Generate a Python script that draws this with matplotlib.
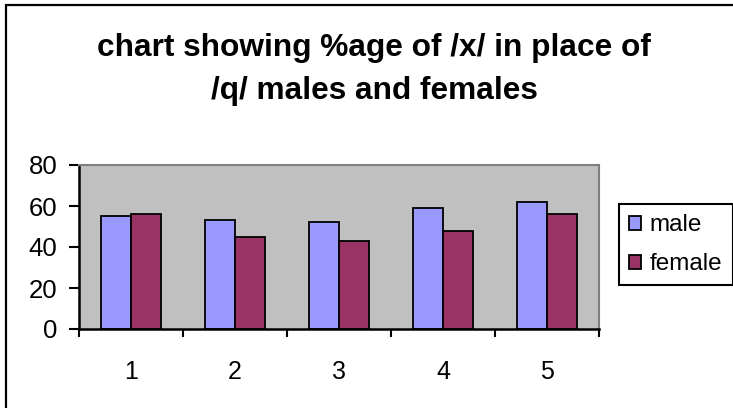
import numpy as np
import matplotlib
matplotlib.use('Agg')
import matplotlib.pyplot as plt
from matplotlib.patches import Rectangle

plt.rcParams['font.family'] = ['Liberation Sans', 'DejaVu Sans']

categories = ['1', '2', '3', '4', '5']
male = [55, 53, 52, 59, 62]
female = [56, 45, 43, 48, 56]
series_names = ['male', 'female']
title_lines = ['chart showing %age of /x/ in place of', '/q/ males and females']

W, H = 733, 408
fig = plt.figure(figsize=(W / 100, H / 100), dpi=100)
fig.patch.set_facecolor('white')

# chart frame (runs off the right and bottom edges)
fig.add_artist(Rectangle((6 / W, -0.1), 1.2, (H - 5) / H + 0.1, transform=fig.transFigure,
                         fill=False, edgecolor='black', lw=1.6))

ax = fig.add_axes([79 / W, 79 / H, 520 / W, 164 / H])
ax.set_facecolor('#C0C0C0')

x = np.arange(len(categories))
bw = 0.29
ax.bar(x - bw / 2, male, bw, color='#9999FF', edgecolor='black', lw=1.3, label=series_names[0], zorder=3)
ax.bar(x + bw / 2, female, bw, color='#993366', edgecolor='black', lw=1.3, label=series_names[1], zorder=3)

ax.set_xlim(-0.5, len(categories) - 0.5)
ax.set_ylim(0, 80)
ax.set_yticks(np.arange(0, 81, 20))
ax.set_xticks(x)
ax.set_xticklabels(categories)
ax.set_xticks(np.arange(-0.5, len(categories)), minor=True)
ax.tick_params(axis='x', which='major', length=0, pad=22, labelsize=18)
ax.tick_params(axis='x', which='minor', length=6, width=1.5, direction='out')
ax.tick_params(axis='y', length=7.5, width=1.5, direction='out', pad=8, labelsize=18.5)

for side in ('top', 'right'):
    ax.spines[side].set_color('#808080')
    ax.spines[side].set_linewidth(1.5)
for side in ('left', 'bottom'):
    ax.spines[side].set_color('black')
    ax.spines[side].set_linewidth(1.8)
ax.spines['bottom'].set_zorder(5)

leg = fig.legend(loc='upper left', bbox_to_anchor=(619 / W, 1 - 204 / H), fontsize=17.5,
                 frameon=True, fancybox=False, edgecolor='black', framealpha=1,
                 handlelength=0.5, handleheight=0.5, handletextpad=0.35,
                 labelspacing=0.7, borderpad=0.42, borderaxespad=0)
leg.get_frame().set_linewidth(1.5)

fig.text(374 / W, 1 - 56 / H, title_lines[0], ha='center', va='baseline',
         fontsize=22.8, fontweight='bold')
fig.text(374 / W, 1 - 99 / H, title_lines[1], ha='center', va='baseline',
         fontsize=22.8, fontweight='bold')

fig.savefig('out.png', dpi=100)
